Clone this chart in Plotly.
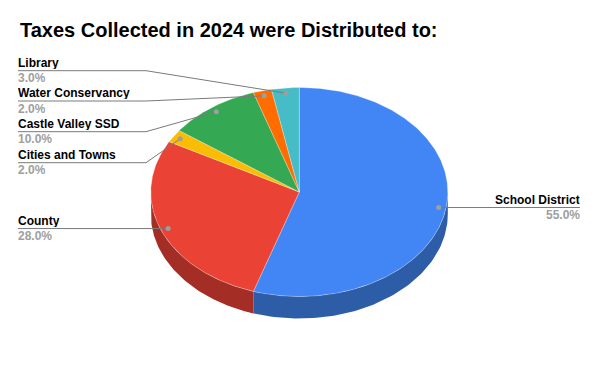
import numpy as np
import plotly.graph_objects as go

# ---- data ----
labels = ["School District", "County", "Cities and Towns",
          "Castle Valley SSD", "Water Conservancy", "Library"]
values = [55, 28, 2, 10, 2, 3]

# ---- styles / layout ----
colors = ["#4285F4", "#EA4335", "#FBBC04", "#34A853", "#FF6D01", "#46BDC6"]
side_colors = ["#2E5DA8", "#A42D25", "#AF8303", "#24753A", "#B24C01", "#31848A"]
W, H = 600, 371
CX, CY, RX, RY, DEPTH = 299.3, 192.0, 148.5, 104.5, 22.0
DOT_F = 0.95
# label rows: (side, line y or None for straight line at dot height)
label_side = ["right", "left", "left", "left", "left", "left"]
label_line_y = [None, None, 162.7, 131.7, 101.0, 70.7]
LEFT_X, RIGHT_X, ELBOW_X = 18, 580, 146
FONT = "Liberation Sans, Arial, sans-serif"
LINE_COLOR = "#7a7a7a"


def pt(theta_deg, f=1.0, dy=0.0):
    t = np.radians(theta_deg)
    return CX + RX * f * np.sin(t), CY - RY * f * np.cos(t) + dy


total = float(sum(values))
angles = np.cumsum([0] + [v / total * 360 for v in values])

fig = go.Figure()

# side walls (front half only: 90..270 deg clockwise from top)
for i in range(len(values)):
    a0, a1 = angles[i], angles[i + 1]
    lo, hi = max(a0, 90), min(a1, 270)
    if hi <= lo:
        continue
    th = np.linspace(lo, hi, 80)
    xt, yt = pt(th)
    xb, yb = pt(th[::-1], dy=DEPTH)
    fig.add_trace(go.Scatter(
        x=np.concatenate([xt, xb]), y=np.concatenate([yt, yb]),
        fill="toself", fillcolor=side_colors[i], mode="lines",
        line=dict(width=0, color=side_colors[i]), hoverinfo="skip", showlegend=False))

# top faces
for i in range(len(values)):
    a0, a1 = angles[i], angles[i + 1]
    th = np.linspace(a0, a1, max(int((a1 - a0) * 2), 4))
    xa, ya = pt(th)
    fig.add_trace(go.Scatter(
        x=np.concatenate([[CX], xa, [CX]]), y=np.concatenate([[CY], ya, [CY]]),
        fill="toself", fillcolor=colors[i], mode="lines",
        line=dict(width=0.6, color="rgba(255,255,255,0.45)"),
        name=labels[i], hoverinfo="name", showlegend=False))

# leader lines, dots, labels
annotations = []
for i in range(len(values)):
    mid = (angles[i] + angles[i + 1]) / 2
    dx, dy = pt(mid, DOT_F)
    ly = label_line_y[i]
    if label_side[i] == "right":
        ly = dy
        lx, ly_list = [dx, RIGHT_X], [dy, dy]
        tx, anchor = RIGHT_X, "right"
    else:
        if ly is None:
            ly = dy
            lx, ly_list = [LEFT_X, dx], [dy, dy]
        else:
            lx, ly_list = [LEFT_X, ELBOW_X, dx], [ly, ly, dy]
        tx, anchor = LEFT_X, "left"
    fig.add_trace(go.Scatter(x=lx, y=ly_list, mode="lines",
                             line=dict(color=LINE_COLOR, width=1),
                             hoverinfo="skip", showlegend=False))
    fig.add_trace(go.Scatter(x=[dx], y=[dy], mode="markers",
                             marker=dict(color="#9e9e9e", size=5),
                             hoverinfo="skip", showlegend=False))
    annotations.append(dict(x=tx, y=ly - 8.3, xref="x", yref="y", text=f"<b>{labels[i]}</b>",
                            showarrow=False, xanchor=anchor, yanchor="middle",
                            height=13, borderpad=0, borderwidth=0,
                            font=dict(family=FONT, size=12, color="#000000")))
    annotations.append(dict(x=tx, y=ly + 7.0, xref="x", yref="y", text=f"<b>{values[i]:.1f}%</b>",
                            showarrow=False, xanchor=anchor, yanchor="middle",
                            height=13, borderpad=0, borderwidth=0,
                            font=dict(family=FONT, size=12, color="#9e9e9e")))

annotations.append(dict(x=18, y=30, xref="x", yref="y",
                        text="<b>Taxes Collected in 2024 were Distributed to:</b>",
                        showarrow=False, xanchor="left", yanchor="middle",
                        font=dict(family=FONT, size=20, color="#000000")))

fig.update_layout(
    width=W, height=H, margin=dict(l=0, r=0, t=0, b=0),
    paper_bgcolor="white", plot_bgcolor="white",
    xaxis=dict(range=[0, W], visible=False, fixedrange=True),
    yaxis=dict(range=[H, 0], visible=False, fixedrange=True),
    annotations=annotations, showlegend=False,
)

fig.write_html("out.html")
